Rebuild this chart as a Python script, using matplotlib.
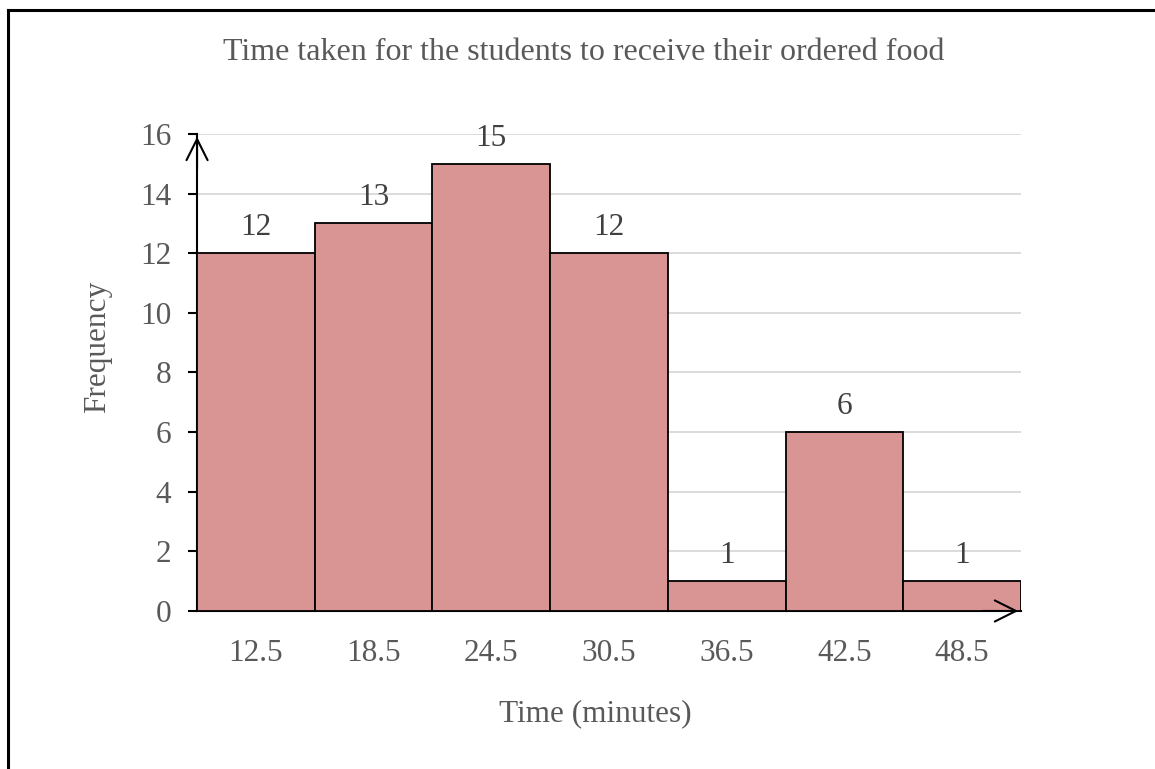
import matplotlib.pyplot as plt
from matplotlib.lines import Line2D

# Frequency table: class midpoints (minutes) and counts
midpoints = [12.5, 18.5, 24.5, 30.5, 36.5, 42.5, 48.5]
frequency = [12, 13, 15, 12, 1, 6, 1]
class_width = 6
y_ticks = [0, 2, 4, 6, 8, 10, 12, 14, 16]

plt.rcParams['font.family'] = ['Liberation Serif', 'DejaVu Serif']
FS = 22.5

fig = plt.figure(figsize=(11.55, 7.69), dpi=100)
ax = fig.add_axes([0.1706, 0.2055, 0.7134, 0.6203])

ax.bar(midpoints, frequency, width=class_width, color='#d99594',
       edgecolor='black', linewidth=1.3, zorder=3)

for x, f in zip(midpoints, frequency):
    ax.annotate(str(f), (x, f), xytext=(0, 8), textcoords='offset points',
                ha='center', va='bottom', fontsize=FS, color='#404040', zorder=4)

ax.set_xlim(midpoints[0] - class_width / 2, midpoints[-1] + class_width / 2)
ax.set_ylim(0, 16)
ax.set_yticks(y_ticks)
ax.set_xticks(midpoints)
ax.set_xticklabels([str(m) for m in midpoints])
ax.yaxis.grid(True, color='#d9d9d9', linewidth=1.3, zorder=0)
ax.set_axisbelow(True)

for side in ['top', 'right']:
    ax.spines[side].set_visible(False)
ax.spines['left'].set_linewidth(1.5)
ax.spines['bottom'].set_linewidth(1.5)
ax.tick_params(axis='y', length=6.5, width=1.5, labelsize=FS,
               labelcolor='#595959', pad=12)
ax.tick_params(axis='x', length=0, labelsize=FS, labelcolor='#595959', pad=20)

# open arrowheads at the end of each axis
ax.annotate('', xy=(0, 1.0), xytext=(0, 0.92), xycoords='axes fraction',
            arrowprops=dict(arrowstyle='->', lw=1.5, color='black',
                            mutation_scale=38), clip_on=False)
ax.annotate('', xy=(1.0, 0), xytext=(0.95, 0), xycoords='axes fraction',
            arrowprops=dict(arrowstyle='->', lw=1.5, color='black',
                            mutation_scale=38), clip_on=False)

ax.set_xlabel('Time (minutes)', fontsize=FS, color='#595959')
ax.set_ylabel('Frequency', fontsize=FS, color='#595959')
ax.xaxis.set_label_coords(0.483, -0.184)
ax.yaxis.set_label_coords(-0.103, 0.553)
fig.text(0.505, 0.932, 'Time taken for the students to receive their ordered food',
         ha='center', va='center', fontsize=23, color='#595959')

# outer frame (top and left edges)
fig.add_artist(Line2D([0.0065, 1.0], [0.9875, 0.9875], color='black',
                      linewidth=2.2, transform=fig.transFigure))
fig.add_artist(Line2D([0.0065, 0.0065], [0.0, 0.9875], color='black',
                      linewidth=2.2, transform=fig.transFigure))

fig.savefig('out.png', dpi=100)
